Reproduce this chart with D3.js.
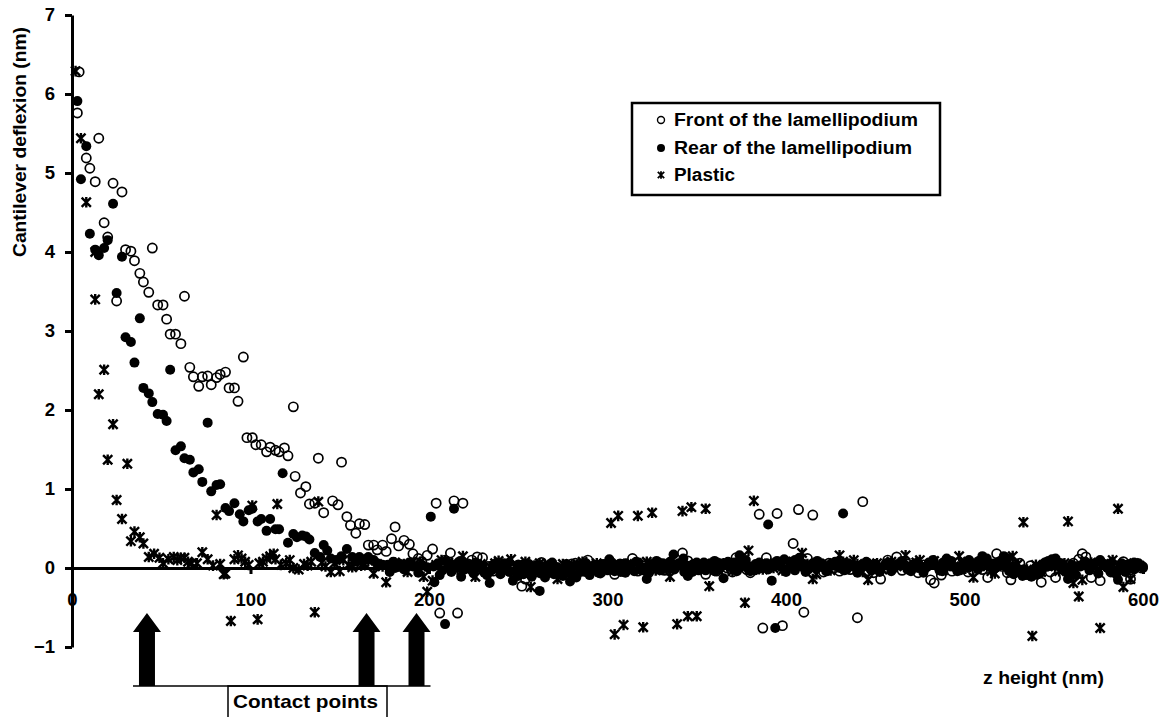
<!DOCTYPE html>
<html>
<head>
<meta charset="utf-8">
<script src="https://cdn.jsdelivr.net/npm/d3@7"></script>
<style>
  body { margin: 0; background: #fff; }
  text { font-family: "Liberation Sans", Arial, sans-serif; font-weight: bold; fill: #000; }
</style>
</head>
<body>
<svg id="svg" width="1162" height="717"></svg>
<script>
'use strict';

// [z height (nm), deflexion (nm)]
var front = [
  [3,5.76],[4,6.28],[8,5.19],[10,5.06],[13,4.89],[15,5.44],[18,4.37],[20,4.19],[23,4.87],[25,3.38],
  [28,4.76],[30,4.03],[33,4.01],[35,3.89],[38,3.73],[40,3.62],[43,3.49],[45,4.05],[48,3.33],[51,3.33],
  [53,3.15],[55,2.96],[58,2.96],[61,2.84],[63,3.44],[66,2.54],[68,2.42],[71,2.30],[73,2.42],[76,2.43],
  [78,2.32],[81,2.41],[83,2.45],[86,2.48],[88,2.28],[91,2.28],[93,2.11],[96,2.67],[98,1.65],[101,1.65],
  [103,1.56],[106,1.56],[109,1.47],[111,1.53],[114,1.49],[116,1.47],[119,1.52],[121,1.42],[124,2.04],[125,1.16],
  [128,0.95],[131,1.03],[133,0.81],[136,0.82],[138,1.39],[141,0.70],[146,0.85],[149,0.80],[151,1.34],[154,0.65],
  [156,0.54],[159,0.44],[161,0.56],[164,0.55],[166,0.29],[169,0.29],[171,0.23],[174,0.29],[176,0.21],[179,0.37],
  [181,0.52],[183,0.28],[186,0.35],[189,0.30],[191,0.18],[194,0.12],[196,0.08],[199,0.16],[202,0.24],[204,0.82],
  [206,-0.57],[209,0.10],[212,0.19],[214,0.85],[216,-0.57],[219,0.82],[222,0.05],[224,0.10],[227,0.14],[230,0.13],
  [233,0.02],[236,-0.04],[239,0.06],[242,0.00],[245,0.03],[248,-0.08],[250,0.04],[252,-0.23],[254,-0.14],[257,0.02],
  [260,-0.05],[263,0.07],[266,-0.02],[269,0.04],[272,0.00],[275,-0.07],[278,0.03],[280,0.05],[282,0.06],[285,-0.03],
  [289,0.10],[292,0.01],[295,-0.05],[298,0.04],[301,0.00],[304,-0.08],[307,0.05],[310,0.02],[314,0.12],[317,-0.04],
  [320,0.03],[323,-0.06],[326,0.02],[329,0.06],[332,-0.03],[335,0.01],[338,0.04],[342,0.19],[345,0.09],[348,-0.02],
  [351,0.03],[355,-0.08],[358,0.02],[361,-0.04],[364,0.05],[367,0.00],[370,-0.05],[372,0.13],[375,0.04],[378,-0.02],
  [380,-0.06],[383,0.03],[385,0.68],[387,-0.76],[389,0.13],[392,0.02],[395,0.69],[398,-0.73],[401,0.04],[404,0.31],
  [407,0.74],[410,-0.56],[412,0.12],[415,0.67],[418,0.02],[421,-0.05],[424,0.06],[427,0.00],[430,-0.04],[433,0.05],
  [436,-0.02],[440,-0.63],[443,0.84],[446,0.03],[449,-0.06],[453,-0.14],[457,0.10],[460,0.02],[462,0.14],[465,-0.03],
  [468,0.05],[471,0.00],[474,-0.06],[477,0.04],[481,-0.15],[483,-0.19],[487,-0.09],[490,0.03],[493,-0.04],[496,0.06],
  [499,0.00],[502,-0.05],[505,0.04],[508,0.07],[510,-0.02],[513,-0.12],[516,0.05],[518,0.18],[521,0.02],[524,-0.06],
  [526,-0.15],[529,0.00],[531,0.06],[534,-0.04],[537,0.03],[540,-0.08],[543,-0.18],[546,0.02],[548,-0.05],[551,-0.12],
  [554,0.04],[557,-0.03],[561,0.06],[564,0.11],[566,0.18],[568,0.14],[571,-0.12],[573,0.02],[576,-0.16],[579,0.04],
  [582,-0.05],[585,0.03],[589,0.08],[591,-0.02],[593,-0.14],[596,0.05],[599,0.00]
];

var rear = [
  [3,5.91],[5,4.92],[8,5.34],[10,4.23],[13,4.03],[15,3.96],[18,4.05],[20,4.15],[23,4.61],[25,3.48],
  [28,3.94],[30,2.92],[33,2.86],[35,2.60],[38,3.16],[40,2.28],[43,2.21],[45,2.10],[48,1.95],[51,1.94],
  [53,1.86],[55,2.51],[58,1.49],[61,1.54],[63,1.39],[66,1.37],[68,1.21],[71,1.25],[73,1.09],[76,1.84],
  [78,0.97],[81,1.05],[83,1.06],[86,0.76],[88,0.72],[91,0.82],[94,0.68],[96,0.59],[99,0.73],[101,0.75],
  [104,0.59],[106,0.62],[109,0.47],[111,0.62],[114,0.49],[116,0.49],[118,1.20],[121,0.32],[124,0.43],[126,0.39],
  [129,0.41],[131,0.40],[133,0.36],[136,0.19],[139,0.14],[141,0.29],[143,0.22],[145,0.12],[148,0.10],[151,0.15],
  [154,0.24],[157,0.14],[159,0.08],[161,0.14],[164,0.11],[166,0.14],[169,0.10],[171,0.06],[174,0.04],[177,0.04],
  [178,-0.05],[180,0.08],[181,0.00],[184,0.05],[186,-0.02],[189,0.07],[191,0.02],[194,-0.06],[196,0.04],[199,0.01],
  [201,0.65],[203,-0.18],[206,-0.09],[209,-0.71],[211,0.03],[214,0.75],[216,0.02],[218,-0.11],[221,0.05],[224,-0.03],
  [226,0.07],[229,0.00],[231,-0.06],[234,-0.19],[236,0.04],[239,-0.02],[242,0.06],[245,-0.05],[247,-0.16],[250,0.03],
  [253,-0.08],[256,0.05],[259,-0.03],[262,-0.29],[264,0.02],[267,-0.06],[269,0.07],[272,0.01],[275,-0.04],[277,0.05],
  [279,-0.17],[282,0.03],[285,-0.05],[288,0.06],[291,-0.02],[294,0.04],[296,-0.07],[299,0.02],[301,0.11],[304,-0.04],
  [307,0.05],[310,-0.06],[313,0.03],[316,0.08],[319,-0.03],[322,-0.14],[325,0.04],[328,-0.02],[331,0.06],[334,0.00],
  [337,0.17],[340,0.03],[343,-0.05],[345,-0.10],[348,0.05],[351,-0.03],[354,0.07],[357,0.00],[360,-0.04],[362,0.06],
  [365,-0.13],[368,0.02],[371,0.07],[374,0.16],[377,0.03],[380,-0.04],[383,0.05],[386,0.00],[389,0.06],[390,0.55],
  [392,-0.16],[394,-0.76],[396,0.04],[399,0.11],[402,0.08],[405,-0.03],[408,0.05],[411,-0.05],[414,0.04],[417,0.00],
  [420,0.06],[423,-0.04],[426,0.03],[429,0.07],[432,0.69],[434,-0.02],[437,0.04],[440,-0.05],[443,0.02],[446,0.06],
  [448,-0.03],[450,0.04],[453,0.00],[456,0.06],[459,-0.04],[462,0.03],[465,0.07],[468,-0.02],[471,0.04],[474,0.00],
  [477,-0.06],[480,0.03],[483,0.05],[486,-0.03],[488,0.07],[490,0.12],[493,0.02],[496,-0.04],[499,0.05],[502,0.00],
  [505,0.06],[508,0.09],[510,0.15],[513,0.04],[516,-0.03],[519,0.07],[522,0.15],[524,0.12],[527,0.02],[530,-0.05],
  [533,-0.02],[535,-0.09],[538,-0.05],[541,-0.08],[544,0.05],[547,0.09],[549,0.11],[551,0.12],[554,0.06],[556,0.02],
  [558,-0.14],[561,-0.05],[564,0.03],[567,0.07],[570,0.02],[573,0.06],[576,0.10],[579,0.03],[582,-0.04],[585,-0.03],
  [586,-0.15],[588,0.06],[591,0.04],[592,0.00],[595,0.07],[598,0.03],[600,0.02]
];

// rear points in between, where the flat band is packed tight
var rearBand = [
  [202.5,0.02],[205,0.06],[207.5,-0.03],[210,0.08],[212.5,-0.05],[215,0.04],[217.5,0.09],[220,-0.02],[222.5,0.03],[225,-0.07],
  [227.5,0.05],[230,0.02],[232.5,-0.09],[235,-0.03],[237.5,0.06],[240,-0.08],[242.5,0.02],[245,0.07],[247.5,-0.04],[250,-0.10],
  [252.5,0.04],[255,-0.06],[257.5,-0.11],[260,0.03],[262.5,-0.07],[265,-0.12],[267.5,0.04],[270,-0.08],[272.5,-0.03],[275,-0.10],
  [277.5,0.02],[280,-0.07],[282.5,-0.12],[285,0.04],[287.5,-0.05],[290,-0.09],[292.5,0.03],[295,-0.06],[297.5,0.05],[300,-0.03],
  [302.5,0.07],[305,0.01],[307.5,-0.05],[310,0.06],[312.5,0.02],[315,-0.04],[317.5,0.07],[320,0.00],[322.5,-0.06],[325,0.05],
  [327.5,0.09],[330,-0.03],[332.5,0.04],[335,0.08],[337.5,-0.02],[340,0.06],[342.5,0.12],[345,0.03],[347.5,-0.05],[350,0.07],
  [352.5,0.02],[355,-0.03],[357.5,0.06],[360,0.09],[362.5,-0.02],[365,0.04],[367.5,0.08],[370,0.01],[372.5,-0.04],[375,0.06],
  [377.5,0.10],[380,0.02],[382.5,-0.03],[385,0.07],[387.5,0.03],[390,-0.02],[392.5,0.06],[395,0.09],[397.5,0.01],[400,-0.05],
  [402.5,0.04],[405,0.10],[407.5,0.13],[410,0.05],[412.5,-0.02],[415,0.06],[417.5,0.09],[420,0.02],[422.5,-0.04],[425,0.05],
  [427.5,0.08],[430,0.00],[432.5,-0.03],[435,0.06],[437.5,0.02],[440,-0.06],[442.5,0.04],[445,0.08],[447.5,-0.02],[450,0.05],
  [452.5,-0.05],[455,0.03],[457.5,0.07],[460,-0.01],[462.5,0.05],[465,0.09],[467.5,0.02],[470,-0.04],[472.5,0.06],[475,0.03],
  [477.5,-0.02],[480,0.07],[482.5,0.10],[485,0.02],[487.5,-0.04],[490,0.06],[492.5,0.09],[495,0.01],[497.5,-0.03],[500,0.06],
  [502.5,0.10],[505,0.03],[507.5,-0.02],[510,0.08],[512.5,0.12],[515,0.05],[517.5,0.00],[520,0.09],[522.5,0.04],[525,-0.04],
  [527.5,-0.08],[530,-0.02],[532.5,-0.10],[535,-0.04],[537.5,-0.11],[540,0.01],[542.5,-0.06],[545,0.07],[547.5,0.03],[550,0.10],
  [552.5,0.06],[555,0.00],[557.5,-0.06],[560,0.04],[562.5,-0.09],[565,0.02],[567.5,0.08],[570,-0.03],[572.5,0.04],[575,-0.07],
  [577.5,0.06],[580,0.00],[582.5,0.07],[585,-0.08],[587.5,0.03],[590,-0.05],[592.5,0.05],[595,-0.02],[597.5,0.06],[600,0.00]
];

var plastic = [
  [2,6.29],[5,5.44],[8,4.63],[13,4.00],[13,3.40],[15,2.20],[18,2.51],[20,1.37],[23,1.82],[25,0.86],
  [28,0.62],[31,1.32],[33,0.34],[35,0.46],[38,0.39],[40,0.31],[43,0.14],[46,0.18],[49,0.13],[51,0.06],
  [54,0.11],[57,0.14],[59,0.10],[61,0.13],[63,0.13],[65,0.08],[67,0.06],[70,0.06],[73,0.20],[76,0.11],
  [79,0.03],[81,0.67],[83,0.05],[85,-0.08],[86,-0.07],[89,-0.67],[91,0.11],[93,0.16],[95,0.12],[97,0.08],
  [99,0.04],[101,0.79],[104,-0.65],[105,0.06],[107,0.08],[109,0.12],[111,0.15],[113,0.18],[114,0.11],[115,0.81],
  [117,0.04],[120,0.06],[122,0.10],[124,0.00],[127,-0.02],[130,0.05],[132,0.03],[134,0.08],[136,-0.56],[138,0.84],
  [140,0.07],[142,0.02],[145,-0.05],[147,0.06],[150,-0.04],[152,0.10],[155,0.04],[157,0.01],[160,0.08],[162,0.03],
  [164,0.05],[166,0.09],[169,-0.07],[171,0.05],[174,0.02],[176,-0.18],[178,0.03],[181,0.07],[183,0.02],[186,0.05],
  [188,-0.05],[190,0.06],[193,0.03],[195,0.08],[197,-0.11],[199,-0.30],[202,-0.16],[204,0.04],[207,0.10],[210,0.02],
  [213,0.06],[216,-0.02],[219,0.15],[221,0.04],[224,0.00],[226,-0.11],[229,0.05],[232,-0.03],[234,0.02],[237,0.06],
  [239,0.09],[242,-0.04],[244,0.03],[246,0.11],[249,0.02],[251,-0.05],[254,0.08],[257,-0.24],[259,0.03],[262,0.06],
  [265,-0.02],[267,0.04],[270,0.00],[272,-0.14],[275,0.05],[278,0.02],[280,-0.06],[283,0.04],[286,0.08],[288,-0.03],
  [291,0.02],[294,0.06],[296,-0.04],[299,0.03],[302,0.57],[304,-0.84],[306,0.66],[309,-0.72],[311,0.05],[314,0.02],
  [317,0.66],[320,-0.75],[322,0.08],[325,0.70],[327,-0.03],[330,0.04],[332,0.00],[335,-0.11],[337,0.05],[339,-0.71],
  [342,0.72],[345,-0.61],[347,0.77],[350,-0.61],[352,0.03],[355,0.75],[357,-0.23],[360,0.04],[362,-0.02],[365,0.06],
  [367,0.02],[370,-0.04],[372,0.05],[375,0.01],[377,-0.44],[379,0.22],[382,0.85],[384,0.03],[387,-0.02],[390,0.05],
  [393,0.00],[396,0.06],[398,-0.03],[401,0.04],[404,0.08],[406,0.02],[409,0.19],[412,0.05],[415,-0.14],[417,-0.08],
  [420,0.04],[422,0.02],[425,-0.03],[427,0.06],[430,0.16],[432,0.08],[435,0.03],[438,0.10],[440,0.05],[443,-0.05],
  [446,-0.15],[448,0.03],[451,0.06],[454,-0.02],[457,0.04],[459,0.08],[462,0.02],[465,0.06],[467,0.16],[470,0.03],
  [473,0.07],[475,0.10],[478,0.02],[481,0.05],[483,0.09],[486,0.04],[488,-0.03],[491,0.06],[494,0.02],[497,0.15],
  [500,0.04],[502,0.08],[505,-0.12],[508,0.03],[510,0.06],[513,0.02],[515,-0.04],[517,-0.07],[520,0.05],[522,0.09],
  [525,0.03],[527,0.15],[530,0.05],[533,0.58],[535,-0.02],[538,-0.86],[540,0.04],[543,-0.05],[546,0.03],[548,0.07],
  [551,0.02],[553,-0.04],[556,0.06],[558,0.59],[561,-0.19],[564,-0.36],[566,-0.15],[569,0.04],[571,0.07],[574,0.02],
  [576,-0.76],[578,0.05],[580,0.03],[583,0.10],[586,0.75],[588,0.02],[589,-0.24],[593,-0.14],[595,0.06],[598,0.03]
];

var xTicks = [0, 100, 200, 300, 400, 500, 600];
var yTicks = [-1, 0, 1, 2, 3, 4, 5, 6, 7];
var contactPoints = [42, 165, 193];
var legendLabels = ['Front of the lamellipodium', 'Rear of the lamellipodium', 'Plastic'];
var legendWidths = [244, 238, 61];

var svg = d3.select('#svg');
var x = d3.scaleLinear().domain([0, 600]).range([72, 1143]);
var y = d3.scaleLinear().domain([-1, 7]).range([647, 15]);

// the original lettering is a bit wider than Liberation Sans
function fit(sel, w) {
  return sel.attr('textLength', w).attr('lengthAdjust', 'spacingAndGlyphs');
}

// star marker: an X with a vertical bar
function starPath(s) {
  return 'M' + (-s) + ',' + (-s) + 'L' + s + ',' + s +
         'M' + (-s) + ',' + s + 'L' + s + ',' + (-s) +
         'M0,' + (-s * 1.15) + 'L0,' + (s * 1.15);
}

// x axis, crossing at y = 0
var xAxis = svg.append('g')
    .attr('transform', 'translate(0,' + y(0) + ')')
    .call(d3.axisBottom(x).tickValues(xTicks).tickSize(6).tickSizeOuter(0).tickPadding(19));
xAxis.select('.domain').attr('stroke-width', 3);
xAxis.selectAll('.tick line').attr('stroke-width', 3);
xAxis.selectAll('.tick text').style('font-size', '18.5px');

// points
var g = svg.append('g');
g.selectAll('circle.front').data(front).enter().append('circle')
    .attr('class', 'front')
    .attr('cx', function(d) { return x(d[0]); })
    .attr('cy', function(d) { return y(d[1]); })
    .attr('r', 4.6)
    .attr('fill', 'none')
    .attr('stroke', '#000')
    .attr('stroke-width', 1.7);
g.selectAll('circle.rear').data(rear.concat(rearBand)).enter().append('circle')
    .attr('class', 'rear')
    .attr('cx', function(d) { return x(d[0]); })
    .attr('cy', function(d) { return y(d[1]); })
    .attr('r', 5)
    .attr('fill', '#000');
g.selectAll('path.plastic').data(plastic).enter().append('path')
    .attr('class', 'plastic')
    .attr('transform', function(d) { return 'translate(' + x(d[0]) + ',' + y(d[1]) + ')'; })
    .attr('d', starPath(4.6))
    .attr('stroke', '#000')
    .attr('stroke-width', 2.4)
    .attr('fill', 'none');

// y axis on top, so that the x "0" label sits under it
var yAxis = svg.append('g')
    .attr('transform', 'translate(' + x(0) + ',0)')
    .call(d3.axisLeft(y).tickValues(yTicks).tickSize(7).tickSizeOuter(0).tickPadding(10).tickFormat(d3.format('d')));
yAxis.select('.domain').attr('stroke-width', 3);
yAxis.selectAll('.tick line').attr('stroke-width', 3);
yAxis.selectAll('.tick text').style('font-size', '18.5px');

fit(svg.append('text')
    .attr('transform', 'translate(26,142) rotate(-90)')
    .attr('text-anchor', 'middle')
    .style('font-size', '18px')
    .text('Cantilever deflexion (nm)'), 230);

fit(svg.append('text')
    .attr('x', 983).attr('y', 684)
    .style('font-size', '18px')
    .text('z height (nm)'), 121);

// legend
var lg = svg.append('g').attr('transform', 'translate(632,103)');
lg.append('rect')
    .attr('width', 308).attr('height', 92)
    .attr('fill', '#fff').attr('stroke', '#000').attr('stroke-width', 2.5);
lg.append('circle').attr('cx', 29).attr('cy', 17).attr('r', 3.5)
    .attr('fill', 'none').attr('stroke', '#000').attr('stroke-width', 1.4);
lg.append('circle').attr('cx', 29).attr('cy', 45).attr('r', 4).attr('fill', '#000');
lg.append('path').attr('transform', 'translate(29,72)').attr('d', starPath(3.2))
    .attr('stroke', '#000').attr('stroke-width', 1.8);
lg.selectAll('text').data(legendLabels).enter().append('text')
    .attr('x', 42)
    .attr('y', function(d, i) { return 23 + i * 27.5; })
    .style('font-size', '17.5px')
    .attr('textLength', function(d, i) { return legendWidths[i]; })
    .attr('lengthAdjust', 'spacingAndGlyphs')
    .text(function(d) { return d; });

// contact point arrows
var arrowTop = 613, headBase = 632, baseY = 686;
svg.selectAll('path.arrow').data(contactPoints).enter().append('path')
    .attr('class', 'arrow')
    .attr('d', function(d) {
      var c = x(d);
      return 'M' + (c - 8) + ',' + baseY + 'V' + headBase + 'H' + (c - 14) +
             'L' + c + ',' + arrowTop + 'L' + (c + 14) + ',' + headBase +
             'H' + (c + 8) + 'V' + baseY + 'Z';
    })
    .attr('fill', '#000');
svg.append('line')
    .attr('x1', x(contactPoints[0]) - 14).attr('x2', x(contactPoints[2]) + 14)
    .attr('y1', baseY).attr('y2', baseY)
    .attr('stroke', '#000').attr('stroke-width', 1.5);
svg.append('path')
    .attr('d', 'M228,720V' + baseY + 'H387V720')
    .attr('fill', 'none').attr('stroke', '#000').attr('stroke-width', 1.5);
fit(svg.append('text')
    .attr('x', 233).attr('y', 708)
    .style('font-size', '19px')
    .text('Contact points'), 145);
</script>
</body>
</html>
